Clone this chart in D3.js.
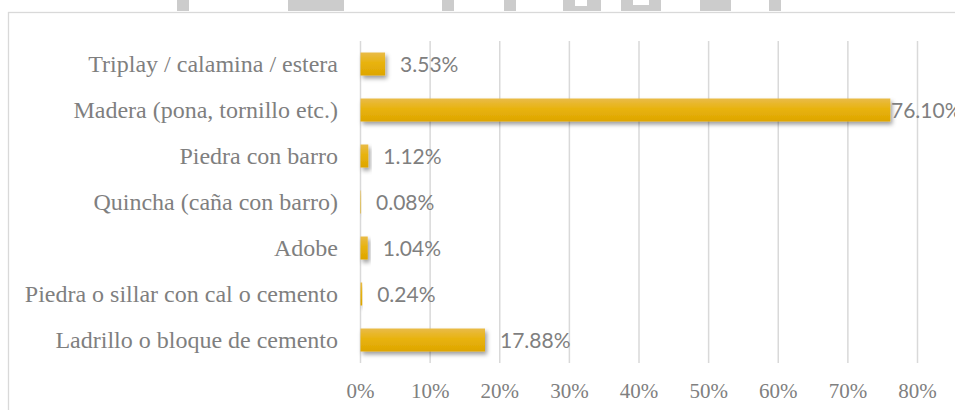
<!DOCTYPE html>
<html>
<head>
<meta charset="utf-8">
<script src="https://cdn.jsdelivr.net/npm/d3@7"></script>
<style>
  html, body { margin: 0; padding: 0; background: #fff; }
  svg { display: block; }
</style>
</head>
<body>
<svg id="chart" width="955" height="410"></svg>
<script>
// Material of exterior walls, share of dwellings
const categories = [
  "Triplay / calamina / estera",
  "Madera (pona, tornillo etc.)",
  "Piedra con barro",
  "Quincha (caña con barro)",
  "Adobe",
  "Piedra o sillar con cal o cemento",
  "Ladrillo o bloque de cemento"
];
const values = [3.53, 76.10, 1.12, 0.08, 1.04, 0.24, 17.88];
const tickValues = [0, 10, 20, 30, 40, 50, 60, 70, 80];

const svg = d3.select("#chart");

// Faint letter fragments along the top edge
const marks = [
  [177, 189], [288, 344], [442, 454], [504, 516],
  [563, 601], [621, 661], [700, 731], [769, 781]
];
svg.append("g").selectAll("rect").data(marks).join("rect")
  .attr("x", d => d[0]).attr("y", 0)
  .attr("width", d => d[1] - d[0]).attr("height", 11)
  .attr("fill", "#cccccc");
// inner counters of the rounded letters
svg.append("rect").attr("x", 575).attr("y", 0).attr("width", 12).attr("height", 6).attr("fill", "#fff");
svg.append("rect").attr("x", 633).attr("y", 0).attr("width", 16).attr("height", 5).attr("fill", "#fff");

// Chart area frame
svg.append("rect")
  .attr("x", 8.5).attr("y", 12.5)
  .attr("width", 1000).attr("height", 500)
  .attr("fill", "#fff").attr("stroke", "#d9d9d9").attr("stroke-width", 1.3);

const defs = svg.append("defs");
const grad = defs.append("linearGradient")
  .attr("id", "barFill").attr("x1", 0).attr("y1", 0).attr("x2", 0).attr("y2", 1);
grad.append("stop").attr("offset", "0%").attr("stop-color", "#e9bb48");
grad.append("stop").attr("offset", "45%").attr("stop-color", "#e8b30e");
grad.append("stop").attr("offset", "100%").attr("stop-color", "#dea500");

const shadow = defs.append("filter").attr("id", "barShadow")
  .attr("x", "-20%").attr("y", "-30%").attr("width", "160%").attr("height", "190%");
shadow.append("feDropShadow")
  .attr("dx", 2).attr("dy", 3).attr("stdDeviation", 2.2)
  .attr("flood-color", "#000").attr("flood-opacity", 0.38);

const x = d3.scaleLinear().domain([0, 80]).range([360.5, 917.5]);
const y = d3.scaleBand().domain(categories).range([41, 363])
  .paddingInner(0.5).paddingOuter(0.25);

// Vertical gridlines
svg.append("g").selectAll("line").data(tickValues).join("line")
  .attr("x1", d => x(d)).attr("x2", d => x(d))
  .attr("y1", 41).attr("y2", 363)
  .attr("stroke", "#d9d9d9").attr("stroke-width", 1.5);

// Bottom tick labels
svg.append("g").selectAll("text").data(tickValues).join("text")
  .attr("x", d => x(d)).attr("y", 398)
  .attr("text-anchor", "middle")
  .attr("font-family", "'Liberation Serif', 'Times New Roman', serif")
  .attr("font-size", 21).attr("fill", "#808080")
  .text(d => d + "%");

// Category labels
svg.append("g").selectAll("text").data(categories).join("text")
  .attr("x", 338).attr("y", d => y(d) + y.bandwidth() / 2)
  .attr("dy", "0.33em")
  .attr("text-anchor", "end")
  .attr("font-family", "'Liberation Serif', 'Times New Roman', serif")
  .attr("font-size", 24).attr("fill", "#7f7f7f")
  .text(d => d);

// Bars
const rows = categories.map((c, i) => ({ c, v: values[i] }));
svg.append("g").selectAll("rect").data(rows).join("rect")
  .attr("x", x(0)).attr("y", d => y(d.c))
  .attr("width", d => x(d.v) - x(0))
  .attr("height", y.bandwidth())
  .attr("fill", "url(#barFill)")
  .attr("filter", "url(#barShadow)");

// Value labels, kept inside the frame for the longest bar
svg.append("g").selectAll("text").data(rows).join("text")
  .attr("x", d => Math.min(x(d.v) + 15, 891))
  .attr("y", d => y(d.c) + y.bandwidth() / 2)
  .attr("dy", "0.4em")
  .attr("font-family", "Lato, 'Open Sans', sans-serif")
  .attr("font-size", 21).attr("fill", "#7f7f7f")
  .text(d => d.v.toFixed(2) + "%");
</script>
</body>
</html>
